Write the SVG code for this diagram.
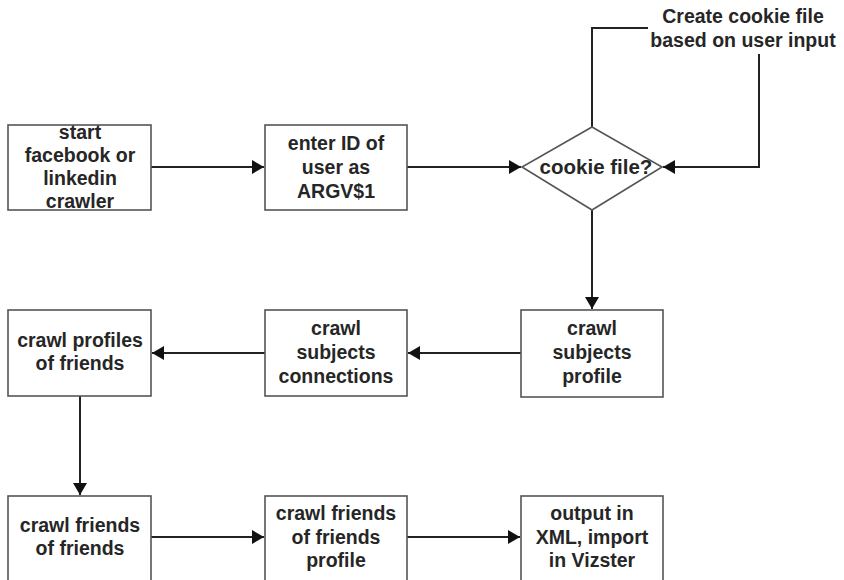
<svg xmlns="http://www.w3.org/2000/svg" width="844" height="580" viewBox="0 0 844 580">
  <style>
    .box { fill: #ffffff; stroke: #555555; stroke-width: 1.6; }
    .lbl { font-family: "Liberation Sans", Arial, sans-serif; font-weight: bold; font-size: 19.5px; fill: #262626; text-anchor: middle; }
    .wire { fill: none; stroke: #222222; stroke-width: 2; }
  </style>
  <defs>
    <marker id="arrow" markerUnits="userSpaceOnUse" markerWidth="13" markerHeight="14" refX="12" refY="7" orient="auto">
      <path d="M0,0 L12,7 L0,14 Z" fill="#111111"/>
    </marker>
  </defs>
  <rect width="844" height="580" fill="#ffffff"/>

  <!-- connectors -->
  <g id="connectors">
    <path class="wire" d="M151,167 H264" marker-end="url(#arrow)"/>
    <path class="wire" d="M407,167 H521" marker-end="url(#arrow)"/>
    <path class="wire" d="M592,210 V309" marker-end="url(#arrow)"/>
    <path class="wire" d="M521,353 H408" marker-end="url(#arrow)"/>
    <path class="wire" d="M265,353 H152" marker-end="url(#arrow)"/>
    <path class="wire" d="M80,396 V495" marker-end="url(#arrow)"/>
    <path class="wire" d="M151,537 H264" marker-end="url(#arrow)"/>
    <path class="wire" d="M407,537 H520" marker-end="url(#arrow)"/>
    <path class="wire" d="M592,127 V28 H648"/>
    <path class="wire" d="M759,54 V167 H663" marker-end="url(#arrow)"/>
  </g>

  <!-- nodes -->
  <g id="start">
    <rect class="box" x="8" y="125" width="143" height="85"/>
    <text class="lbl" x="80" y="139">start</text>
    <text class="lbl" x="80" y="162">facebook or</text>
    <text class="lbl" x="80" y="185">linkedin</text>
    <text class="lbl" x="80" y="208">crawler</text>
  </g>
  <g id="enter-id">
    <rect class="box" x="265" y="125" width="142" height="85"/>
    <text class="lbl" x="336" y="150">enter ID of</text>
    <text class="lbl" x="336" y="174">user as</text>
    <text class="lbl" x="336" y="198">ARGV$1</text>
  </g>
  <g id="cookie-decision">
    <polygon class="box" points="592,127 662,167 592,210 522,167"/>
    <text class="lbl" x="596" y="174" style="font-size:20.5px">cookie file?</text>
  </g>
  <g id="create-cookie">
    <text class="lbl" x="743" y="23">Create cookie file</text>
    <text class="lbl" x="743" y="47">based on user input</text>
  </g>
  <g id="subjects-profile">
    <rect class="box" x="521" y="310" width="142" height="87"/>
    <text class="lbl" x="592" y="335">crawl</text>
    <text class="lbl" x="592" y="359">subjects</text>
    <text class="lbl" x="592" y="383">profile</text>
  </g>
  <g id="subjects-connections">
    <rect class="box" x="265" y="310" width="142" height="86"/>
    <text class="lbl" x="336" y="335">crawl</text>
    <text class="lbl" x="336" y="359">subjects</text>
    <text class="lbl" x="336" y="383">connections</text>
  </g>
  <g id="profiles-of-friends">
    <rect class="box" x="8" y="310" width="143" height="86"/>
    <text class="lbl" x="80" y="347">crawl profiles</text>
    <text class="lbl" x="80" y="370">of friends</text>
  </g>
  <g id="friends-of-friends">
    <rect class="box" x="8" y="496" width="143" height="88"/>
    <text class="lbl" x="80" y="532">crawl friends</text>
    <text class="lbl" x="80" y="555">of friends</text>
  </g>
  <g id="fof-profile">
    <rect class="box" x="265" y="496" width="142" height="88"/>
    <text class="lbl" x="336" y="520">crawl friends</text>
    <text class="lbl" x="336" y="544">of friends</text>
    <text class="lbl" x="336" y="567">profile</text>
  </g>
  <g id="output">
    <rect class="box" x="521" y="496" width="142" height="88"/>
    <text class="lbl" x="592" y="520">output in</text>
    <text class="lbl" x="592" y="544">XML, import</text>
    <text class="lbl" x="592" y="567">in Vizster</text>
  </g>
</svg>
